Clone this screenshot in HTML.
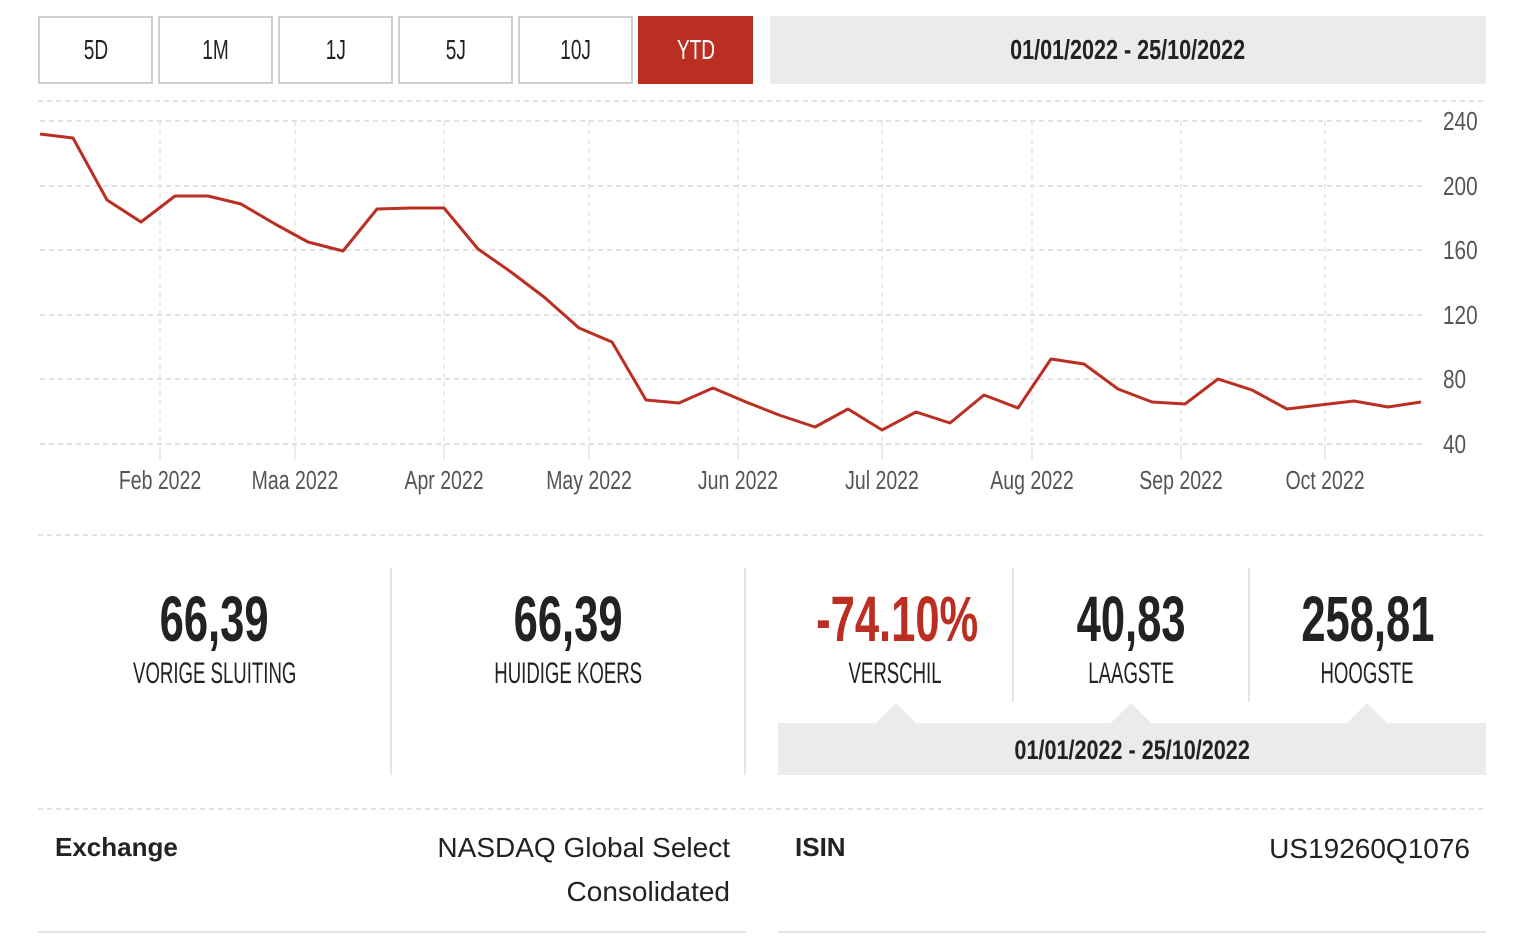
<!DOCTYPE html>
<html><head><meta charset="utf-8"><style>
*{margin:0;padding:0;box-sizing:border-box}
body{width:1516px;height:940px;background:#fff;position:relative;overflow:hidden;font-family:"Liberation Sans",sans-serif;color:#222}
.a{position:absolute}
.s{display:inline-block;transform-origin:center}
.btn{position:absolute;top:16px;height:68px;width:115px;border:2px solid #cfcfcf;background:#fff;font-size:28px;display:flex;align-items:center;justify-content:center;color:#222}
.btn span{display:inline-block;transform:scaleX(0.68)}
.c{position:absolute;text-align:center;line-height:1}
.num{font-size:64px;font-weight:bold}
.num span{display:inline-block;transform:scaleX(0.68)}
.lbl{font-size:30px}
.lbl span{display:inline-block;transform:scaleX(0.62)}
</style></head><body>
<div class="btn" style="left:38px"><span>5D</span></div>
<div class="btn" style="left:158px"><span>1M</span></div>
<div class="btn" style="left:278px"><span>1J</span></div>
<div class="btn" style="left:398px"><span>5J</span></div>
<div class="btn" style="left:518px"><span>10J</span></div>
<div class="btn" style="left:638px;background:#bb2f23;border-color:#bb2f23;color:#fff"><span>YTD</span></div>
<div class="a" style="left:770px;top:16px;width:716px;height:68px;background:#ebebeb;display:flex;align-items:center;justify-content:center;font-size:28px;font-weight:bold"><span class="s" style="transform:scaleX(0.77)">01/01/2022 - 25/10/2022</span></div>

<svg class="a" style="left:0;top:0" width="1516" height="940">
<g stroke="#d8d8d8" stroke-width="1.5" stroke-dasharray="5,4" fill="none">
<line x1="38" y1="101" x2="1486" y2="101"/>
<line x1="40" y1="121" x2="1425" y2="121"/>
<line x1="40" y1="186" x2="1425" y2="186"/>
<line x1="40" y1="250" x2="1425" y2="250"/>
<line x1="40" y1="315" x2="1425" y2="315"/>
<line x1="40" y1="379" x2="1425" y2="379"/>
<line x1="40" y1="444" x2="1425" y2="444"/>
<g stroke-width="1"><line x1="160" y1="121" x2="160" y2="444"/><line x1="295" y1="121" x2="295" y2="444"/><line x1="444" y1="121" x2="444" y2="444"/><line x1="589" y1="121" x2="589" y2="444"/><line x1="738" y1="121" x2="738" y2="444"/><line x1="882" y1="121" x2="882" y2="444"/><line x1="1032" y1="121" x2="1032" y2="444"/><line x1="1181" y1="121" x2="1181" y2="444"/><line x1="1325" y1="121" x2="1325" y2="444"/></g>
<line x1="38" y1="535" x2="1486" y2="535"/>
<line x1="38" y1="809" x2="1486" y2="809"/>
</g>
<g stroke="#d8d8d8" stroke-width="1"><line x1="160" y1="444" x2="160" y2="460"/><line x1="295" y1="444" x2="295" y2="460"/><line x1="444" y1="444" x2="444" y2="460"/><line x1="589" y1="444" x2="589" y2="460"/><line x1="738" y1="444" x2="738" y2="460"/><line x1="882" y1="444" x2="882" y2="460"/><line x1="1032" y1="444" x2="1032" y2="460"/><line x1="1181" y1="444" x2="1181" y2="460"/><line x1="1325" y1="444" x2="1325" y2="460"/></g>
<polyline fill="none" stroke="#bb2f23" stroke-width="3" stroke-linejoin="round" points="40,134 73,138 107,200 141,222 175,196 208,196 241,204 275,224 308,242 343,251 377,209 411,208 444,208 478,249 511,272 544,297 579,328 612,342 646,400 679,403 713,388 746,402 779,415 815,427 848,409 882,430 916,412 950,423 984,395 1018,408 1051,359 1084,364 1118,389 1152,402 1185,404 1218,379 1252,390 1287,409 1320,405 1354,401 1388,407 1421,402"/>
<g font-family="Liberation Sans, sans-serif" font-size="26" fill="#555">
<text transform="translate(1443,130) scale(0.8,1)">240</text><text transform="translate(1443,195) scale(0.8,1)">200</text><text transform="translate(1443,259) scale(0.8,1)">160</text><text transform="translate(1443,324) scale(0.8,1)">120</text><text transform="translate(1443,388) scale(0.8,1)">80</text><text transform="translate(1443,453) scale(0.8,1)">40</text>
<g text-anchor="middle">
<text transform="translate(160,489) scale(0.75,1)">Feb 2022</text>
<text transform="translate(295,489) scale(0.75,1)">Maa 2022</text>
<text transform="translate(444,489) scale(0.75,1)">Apr 2022</text>
<text transform="translate(589,489) scale(0.75,1)">May 2022</text>
<text transform="translate(738,489) scale(0.75,1)">Jun 2022</text>
<text transform="translate(882,489) scale(0.75,1)">Jul 2022</text>
<text transform="translate(1032,489) scale(0.75,1)">Aug 2022</text>
<text transform="translate(1181,489) scale(0.75,1)">Sep 2022</text>
<text transform="translate(1325,489) scale(0.75,1)">Oct 2022</text></g>
</g>
<g stroke="#e6e6e6" stroke-width="2"><line x1="391" y1="568" x2="391" y2="775"/><line x1="745" y1="568" x2="745" y2="775"/><line x1="1013" y1="568" x2="1013" y2="702"/><line x1="1249" y1="568" x2="1249" y2="702"/>
<line x1="38" y1="932" x2="746" y2="932"/><line x1="778" y1="932" x2="1486" y2="932"/></g>
<rect x="778" y="723" width="708" height="52" fill="#ebebeb"/>
<polygon points="876,723 896,703 916,723" fill="#ebebeb"/>
<polygon points="1111,723 1131,703 1151,723" fill="#ebebeb"/>
<polygon points="1347,723 1367,703 1387,723" fill="#ebebeb"/>
</svg>

<div class="c num" style="left:38px;width:353px;top:587px"><span>66,39</span></div>
<div class="c lbl" style="left:38px;width:353px;top:659px"><span>VORIGE SLUITING</span></div>
<div class="c num" style="left:391px;width:354px;top:587px"><span>66,39</span></div>
<div class="c lbl" style="left:391px;width:354px;top:659px"><span>HUIDIGE KOERS</span></div>
<div class="c num" style="left:778px;width:235px;top:587px;color:#bb2f23"><span>-74.10%</span></div>
<div class="c lbl" style="left:778px;width:235px;top:659px"><span>VERSCHIL</span></div>
<div class="c num" style="left:1013px;width:236px;top:587px"><span>40,83</span></div>
<div class="c lbl" style="left:1013px;width:236px;top:659px"><span>LAAGSTE</span></div>
<div class="c num" style="left:1249px;width:237px;top:587px"><span>258,81</span></div>
<div class="c lbl" style="left:1249px;width:237px;top:659px"><span>HOOGSTE</span></div>
<div class="c" style="left:778px;width:708px;top:737px;font-size:27px;font-weight:bold"><span class="s" style="transform:scaleX(0.8)">01/01/2022 - 25/10/2022</span></div>

<div class="a" style="left:55px;top:832px;font-size:26px;font-weight:bold">Exchange</div>
<div class="a" style="left:380px;width:350px;top:826px;font-size:28px;text-align:right;line-height:44px">NASDAQ Global Select Consolidated</div>
<div class="a" style="left:795px;top:832px;font-size:26px;font-weight:bold">ISIN</div>
<div class="a" style="left:1100px;width:370px;top:833px;font-size:28px;text-align:right">US19260Q1076</div>
</body></html>
